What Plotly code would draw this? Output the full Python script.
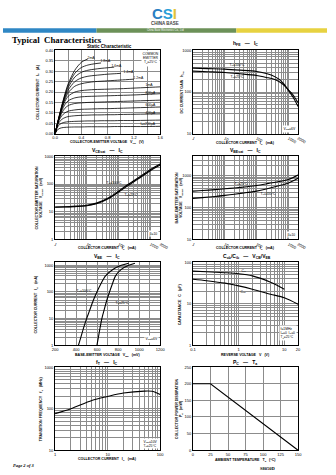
import math
import plotly.graph_objects as go

W, H = 336, 475
FONT = "Liberation Sans, Arial, sans-serif"

# ---------------- data ----------------
# Static characteristic  (VCE in V, IC in A)
vce_v = [0, 0.05, 0.1, 0.15, 0.2, 0.3, 0.4, 0.5, 0.6, 0.7, 0.8, 0.9, 1.0, 1.2, 1.4, 1.6]
ic_static_1 = [0, .068, .132, .19, .24, .305, .343, .36]
ic_static_2 = [0, .067, .13, .186, .232, .29, .318, .33, .336, .34]
ic_static_3 = [0, .066, .127, .18, .222, .272, .295, .305, .31, .314, .317, .32]
ic_static_4 = [0, .065, .124, .173, .21, .25, .268, .276, .28, .283, .286, .288, .29]
ic_static_5 = [0, .064, .12, .165, .197, .228, .24, .246, .25, .252, .254, .256, .258, .262]
ic_static_6 = [0, .063, .115, .155, .18, .2, .207, .21, .212, .213, .214, .215, .216, .219, .222, .225]
ic_static_7 = [0, .061, .108, .14, .158, .172, .177, .179, .18, .181, .182, .183, .184, .186, .189, .192]
ic_static_8 = [0, .059, .098, .122, .135, .145, .148, .15, .151, .152, .153, .154, .155, .157, .159, .161]
ic_static_9 = [0, .055, .085, .1, .108, .114, .117, .118, .119, .12, .12, .121, .122, .124, .126, .128]
ic_static_10 = [0, .048, .068, .077, .082, .086, .088, .089, .09, .09, .091, .091, .092, .093, .094, .095]
ic_static_11 = [0, .038, .05, .055, .057, .059, .06, .061, .061, .062, .062, .062, .063, .063, .064, .065]
ic_static_12 = [0, .022, .028, .03, .031, .032, .032, .033, .033, .033, .033, .034, .034, .034, .034, .035]
static_labels = ["2mA", "1.8mA", "1.6mA", "1.4mA", "1.2mA", "1mA",
                 "800μA", "600μA", "400μA", "I<sub>B</sub>=200μA"]

# hFE vs IC
ic_hfe = [1, 3, 10, 30, 100, 200, 300, 500, 700, 1000, 1400, 2000]
hfe_ta100 = [377, 366, 356, 337, 313, 280, 255, 205, 160, 110, 75, 45]
hfe_ta25 = [319, 308, 296, 275, 251, 225, 212, 180, 150, 112, 85, 55]

# VCE(sat) vs IC
ic_sat = [1, 2, 5, 10, 20, 50, 100, 200, 500, 1000, 2000]
vcesat_ta25 = [14.5, 14.8, 15.5, 16.5, 19.5, 31, 52, 90, 180, 310, 490]
vcesat_ta100 = [14.8, 15.2, 16.0, 17.2, 20.5, 33, 56, 98, 196, 335, 530]

# VBE(sat) vs IC
ic_vbesat = [1, 2, 5, 10, 20, 50, 100, 200, 500, 1000, 2000]
vbesat_ta25 = [327, 340, 365, 387, 410, 450, 490, 550, 650, 760, 1050]
vbesat_ta100 = [194, 205, 222, 240, 262, 295, 327, 380, 480, 590, 830]

# IC vs VBE
ic_on = [1, 2, 5, 10, 20, 50, 100, 200, 400, 700, 1000, 1200]
vbe_ta100 = [422, 445, 475, 500, 528, 565, 598, 635, 680, 750, 830, 900]
vbe_ta25 = [598, 612, 630, 645, 665, 693, 718, 745, 775, 830, 900, 960]

# Capacitance vs reverse voltage
vr = [0.1, 0.2, 0.5, 1, 2, 5, 10, 20]
c_ib = [61, 59, 56, 53, 47, 33, 22.5, None]
c_ob = [39, 36, 31.5, 27, 22.5, 17, 14, 9.8]

# fT vs IC
ic_ft = [1, 2, 5, 10, 20, 50, 70, 100]
ft_mhz = [76, 100, 158, 197, 238, 265, 262, 220]

# PC vs Ta
ta_c = [0, 25, 150]
pc_mw = [200, 200, 0]

# ---------------- helpers ----------------
def dx(l, r):
    return [l / W, r / W]

def dy(t, b):
    return [1 - b / H, 1 - t / H]

def px(x):
    return x / W

def py(y):
    return 1 - y / H

def fmt(v):
    if v >= 1:
        return str(int(round(v)))
    return ("%g" % v)

def log_grid(lo, hi, labels):
    vals, texts = [], []
    e = math.floor(math.log10(lo) + 1e-9)
    while 10 ** e <= hi * 1.000001:
        for m in range(1, 10):
            v = round(m * 10 ** e, 6)
            if lo * 0.999999 <= v <= hi * 1.000001:
                vals.append(v)
                texts.append(fmt(v) if any(abs(v - l) < 1e-9 for l in labels) else "")
        e += 1
    return vals, texts

def base_axis(domain, anchor, **kw):
    d = dict(domain=domain, anchor=anchor, showline=True, linecolor="black",
             linewidth=0.9, mirror=True, showgrid=True, gridcolor="#8c8c8c",
             gridwidth=0.5, zeroline=False, ticks="", fixedrange=True,
             tickfont=dict(size=4, family=FONT, color="black"),
             tickmode="array")
    d.update(kw)
    return d

def log_axis(domain, anchor, lo, hi, labels):
    vals, texts = log_grid(lo, hi, labels)
    return base_axis(domain, anchor, type="log",
                     range=[math.log10(lo), math.log10(hi)],
                     tickvals=vals, ticktext=texts)

def lin_axis(domain, anchor, lo, hi, step, label_every, decimals):
    vals, texts = [], []
    n = int(round((hi - lo) / step))
    for i in range(n + 1):
        v = lo + i * step
        vals.append(v)
        texts.append(("%." + str(decimals) + "f") % v if i % label_every == 0 else "")
    return base_axis(domain, anchor, range=[lo, hi], tickvals=vals, ticktext=texts)

LC, RC = (54, 163), (197, 306)
ROWS = [(48, 132), (155, 239), (262, 346), (368, 452)]

fig = go.Figure()
line = dict(color="black", width=1.1, shape="spline", smoothing=0.8)
thin = dict(color="black", width=0.8, shape="spline", smoothing=0.8)

# panel 1
static_curves = [ic_static_1, ic_static_2, ic_static_3, ic_static_4, ic_static_5,
                 ic_static_6, ic_static_7, ic_static_8, ic_static_9, ic_static_10,
                 ic_static_11, ic_static_12]
for c in static_curves:
    fig.add_trace(go.Scatter(x=vce_v[:len(c)], y=c, mode="lines", line=thin,
                             xaxis="x", yaxis="y", hoverinfo="skip"))
# panel 2
for yv in (hfe_ta100, hfe_ta25):
    fig.add_trace(go.Scatter(x=ic_hfe, y=yv, mode="lines", line=line, xaxis="x2", yaxis="y2"))
# panel 3
for yv in (vcesat_ta25, vcesat_ta100):
    fig.add_trace(go.Scatter(x=ic_sat, y=yv, mode="lines", line=line, xaxis="x3", yaxis="y3"))
# panel 4
for yv in (vbesat_ta25, vbesat_ta100):
    fig.add_trace(go.Scatter(x=ic_vbesat, y=yv, mode="lines", line=line, xaxis="x4", yaxis="y4"))
# panel 5
for xv in (vbe_ta100, vbe_ta25):
    fig.add_trace(go.Scatter(x=xv, y=ic_on, mode="lines", line=line, xaxis="x5", yaxis="y5"))
# panel 6
for yv in (c_ib, c_ob):
    fig.add_trace(go.Scatter(x=vr, y=yv, mode="lines", line=line, xaxis="x6", yaxis="y6"))
# panel 7
fig.add_trace(go.Scatter(x=ic_ft, y=ft_mhz, mode="lines", line=line, xaxis="x7", yaxis="y7"))
# panel 8
fig.add_trace(go.Scatter(x=ta_c, y=pc_mw, mode="lines", line=dict(color="black", width=1.1),
                         xaxis="x8", yaxis="y8"))

lay = dict(width=W, height=H, margin=dict(l=0, r=0, t=0, b=0),
           paper_bgcolor="white", plot_bgcolor="white", showlegend=False,
           font=dict(family=FONT, color="black"))

lay["xaxis"] = lin_axis(dx(*LC), "y", 0, 1.6, 0.2, 2, 1)
lay["yaxis"] = lin_axis(dy(*ROWS[0]), "x", 0, 0.40, 0.05, 1, 2)
lay["xaxis2"] = log_axis(dx(*RC), "y2", 1, 2000, [1, 10, 100, 1000, 2000])
lay["yaxis2"] = log_axis(dy(*ROWS[0]), "x2", 10, 1000, [10, 100, 1000])
lay["xaxis3"] = log_axis(dx(*LC), "y3", 1, 2000, [1, 10, 100, 1000, 2000])
lay["yaxis3"] = log_axis(dy(*ROWS[1]), "x3", 1, 1000, [1, 10, 100, 1000])
lay["xaxis4"] = log_axis(dx(*RC), "y4", 1, 2000, [1, 10, 100, 1000, 2000])
lay["yaxis4"] = log_axis(dy(*ROWS[1]), "x4", 10, 4000, [10, 100, 1000])
lay["xaxis5"] = lin_axis(dx(*LC), "y5", 200, 1200, 100, 2, 0)
lay["yaxis5"] = log_axis(dy(*ROWS[2]), "x5", 1, 1300, [1, 10, 100, 1000])
lay["xaxis6"] = log_axis(dx(*RC), "y6", 0.1, 20, [0.1, 1, 10, 20])
lay["yaxis6"] = log_axis(dy(*ROWS[2]), "x6", 1, 100, [1, 10, 100])
lay["xaxis7"] = log_axis(dx(*LC), "y7", 1, 100, [1, 10, 100])
lay["yaxis7"] = log_axis(dy(*ROWS[3]), "x7", 10, 1000, [10, 100, 1000])
lay["xaxis8"] = lin_axis(dx(*RC), "y8", 0, 150, 25, 1, 0)
lay["yaxis8"] = lin_axis(dy(*ROWS[3]), "x8", 0, 250, 50, 1, 0)

ann = []

def pa(text, x, y, size=4, bold=False, angle=0, xanchor="center", align="center",
       color="black", family=FONT, yanchor="middle"):
    if bold:
        text = "<b>" + text + "</b>"
    ann.append(dict(text=text, x=px(x), y=py(y), xref="paper", yref="paper",
                    showarrow=False, font=dict(size=size, color=color, family=family),
                    textangle=angle, xanchor=xanchor, yanchor=yanchor, align=align))

def da(text, ax, x, y, size=3.6, xanchor="center", bg=None, align="center"):
    d = dict(text=text, x=x, y=y, xref="x" + ax, yref="y" + ax, showarrow=False,
             font=dict(size=size, family=FONT, color="black"), xanchor=xanchor,
             yanchor="middle", align=align, borderpad=0.5)
    if bg:
        d["bgcolor"] = bg
    ann.append(d)

# header
pa("<span style='color:#2b7fc3'>C</span><span style='color:#2aa0d8'>S</span>"
   "<span style='color:#e3c33a'>I</span>", 167, 11, size=15, bold=True)
pa("CHINA BASE", 168, 21, size=4.5, bold=True, color="#444444")
pa("China Base Electronics Co., Ltd", 168, 27.6, size=2.6, color="white")
pa("Typical  Characteristics", 7, 37.5, size=8.8, bold=True, xanchor="left",
   family="Liberation Serif, Times New Roman, serif")
pa("<i>Page 2 of 3</i>", 8, 467, size=4.5, bold=True, xanchor="left",
   family="Liberation Serif, Times New Roman, serif")
pa("S8050D", 275, 470, size=4.5, bold=True, family="Liberation Serif, Times New Roman, serif")

# panel titles
pa("Static Characteristic", 110, 43.5, size=4.6, bold=True)
pa("h<sub>FE</sub>   —   I<sub>C</sub>", 251, 41, size=5, bold=True)
pa("V<sub>CEsat</sub>   —   I<sub>C</sub>", 108, 149.5, size=5, bold=True)
pa("V<sub>BEsat</sub>   —   I<sub>C</sub>", 251, 149.5, size=5, bold=True)
pa("V<sub>BE</sub>   —   I<sub>C</sub>", 108, 256.5, size=5, bold=True)
pa("C<sub>ob</sub>/C<sub>ib</sub>   —   V<sub>CB</sub>/V<sub>EB</sub>", 253, 256.5, size=5, bold=True)
pa("f<sub>T</sub>   —   I<sub>C</sub>", 108, 363, size=5, bold=True)
pa("P<sub>C</sub>   —   T<sub>a</sub>", 251, 363, size=5, bold=True)

# x titles
pa("COLLECTOR-EMITTER VOLTAGE   V<sub>CE</sub>   (V)", 108, 141, size=3.6, bold=True)
pa("COLLECTOR CURRENT   I<sub>C</sub>   (mA)", 251, 142, size=3.6, bold=True)
pa("COLLECTOR CURRENT   I<sub>C</sub>   (mA)", 108, 248, size=3.6, bold=True)
pa("COLLECTOR CURRENT   I<sub>C</sub>   (mA)", 251, 248, size=3.6, bold=True)
pa("BASE-EMITTER VOLTAGE   V<sub>BE</sub>   (mV)", 108, 356, size=3.6, bold=True)
pa("REVERSE VOLTAGE   V   (V)", 251, 356, size=3.6, bold=True)
pa("COLLECTOR CURRENT   I<sub>C</sub>   (mA)", 108, 461, size=3.6, bold=True)
pa("AMBIENT TEMPERATURE   T<sub>a</sub>   (°C)", 251, 462, size=3.6, bold=True)

# y titles
pa("COLLECTOR CURRENT   I<sub>C</sub>   (A)", 36, 90, size=3.6, bold=True, angle=-90)
pa("DC CURRENT GAIN   h<sub>FE</sub>", 186, 90, size=3.6, bold=True, angle=-90)
pa("COLLECTOR-EMITTER SATURATION<br>VOLTAGE   V<sub>CEsat</sub>   (mV)", 38, 197, size=3.6, bold=True, angle=-90)
pa("BASE-EMITTER SATURATION<br>VOLTAGE   V<sub>BEsat</sub>   (mV)", 183, 197, size=3.6, bold=True, angle=-90)
pa("COLLECTOR CURRENT   I<sub>C</sub>   (mA)", 35, 304, size=3.6, bold=True, angle=-90)
pa("CAPACITANCE   C   (pF)", 183, 304, size=3.6, bold=True, angle=-90)
pa("TRANSITION FREQUENCY   f<sub>T</sub>   (MHz)", 40, 410, size=3.6, bold=True, angle=-90)
pa("COLLECTOR POWER DISSIPATION<br>P<sub>C</sub>   (mW)", 183, 410, size=3.6, bold=True, angle=-90)

# in-plot labels panel 1
static_label_pos = [(0.56, 0.368), (0.78, 0.352), (0.95, 0.33), (1.12, 0.30), (1.27, 0.272),
                    (1.43, 0.236), (1.46, 0.2), (1.46, 0.138), (1.46, 0.104), (1.42, 0.046)]
for t, (x, y) in zip(static_labels, static_label_pos):
    da(t, "", x, y, size=3.4)
da("COMMON<br>EMITTER<br>T<sub>a</sub>=25°C", "", 1.59, 0.36, size=3.4, xanchor="right", bg="white")

# panel 2
da("T<sub>a</sub>=100°C", "2", math.log10(25), math.log10(440), size=3.4)
da("T<sub>a</sub>=25°C", "2", math.log10(25), math.log10(225), size=3.4)
da("V<sub>CE</sub>=6V", "2", math.log10(1900), math.log10(13), size=3.4, xanchor="right", bg="white")

# panel 3
da("T<sub>a</sub>=100°C", "3", math.log10(70), math.log10(105), size=3.4)
da("T<sub>a</sub>=25°C", "3", math.log10(250), math.log10(42), size=3.4)
da("β=10", "3", math.log10(1900), math.log10(1.6), size=3.4, xanchor="right", bg="white")

# panel 4
da("T<sub>a</sub>=25°C", "4", math.log10(33), math.log10(560), size=3.4)
da("T<sub>a</sub>=100°C", "4", math.log10(230), math.log10(260), size=3.4)
da("β=10", "4", math.log10(1900), math.log10(14), size=3.4, xanchor="right", bg="white")

# panel 5
da("T<sub>a</sub>=100°C", "5", 475, math.log10(110), size=3.4)
da("T<sub>a</sub>=25°C", "5", 840, math.log10(38), size=3.4)
da("V<sub>CE</sub>=6V", "5", 1190, math.log10(1.7), size=3.4, xanchor="right", bg="white")

# panel 6
da("C<sub>ib</sub>", "6", math.log10(1.3), math.log10(60), size=3.4)
da("C<sub>ob</sub>", "6", math.log10(1.3), math.log10(19), size=3.4)
da("f=1MHz<br>I<sub>E</sub>=0  I<sub>C</sub>=0<br>T<sub>a</sub>=25°C", "6", math.log10(19), math.log10(2.0),
   size=3.3, xanchor="right", bg="white", align="left")

# panel 7
da("V<sub>CE</sub>=10V<br>T<sub>a</sub>=25°C", "7", math.log10(95), math.log10(14.5), size=3.3,
   xanchor="right", bg="white", align="left")

lay["annotations"] = ann

# header bar
shapes = [
    dict(type="rect", xref="paper", yref="paper", x0=0, x1=px(97), y0=py(30), y1=py(25.5),
         fillcolor="#2f87c4", line=dict(width=0)),
    dict(type="rect", xref="paper", yref="paper", x0=px(97), x1=px(242), y0=py(30), y1=py(25.5),
         fillcolor="#6c9158", line=dict(width=0)),
    dict(type="rect", xref="paper", yref="paper", x0=px(242), x1=1, y0=py(30), y1=py(25.5),
         fillcolor="#e7d241", line=dict(width=0)),
]
lay["shapes"] = shapes

fig.update_layout(**lay)
fig.write_html("out.html")
